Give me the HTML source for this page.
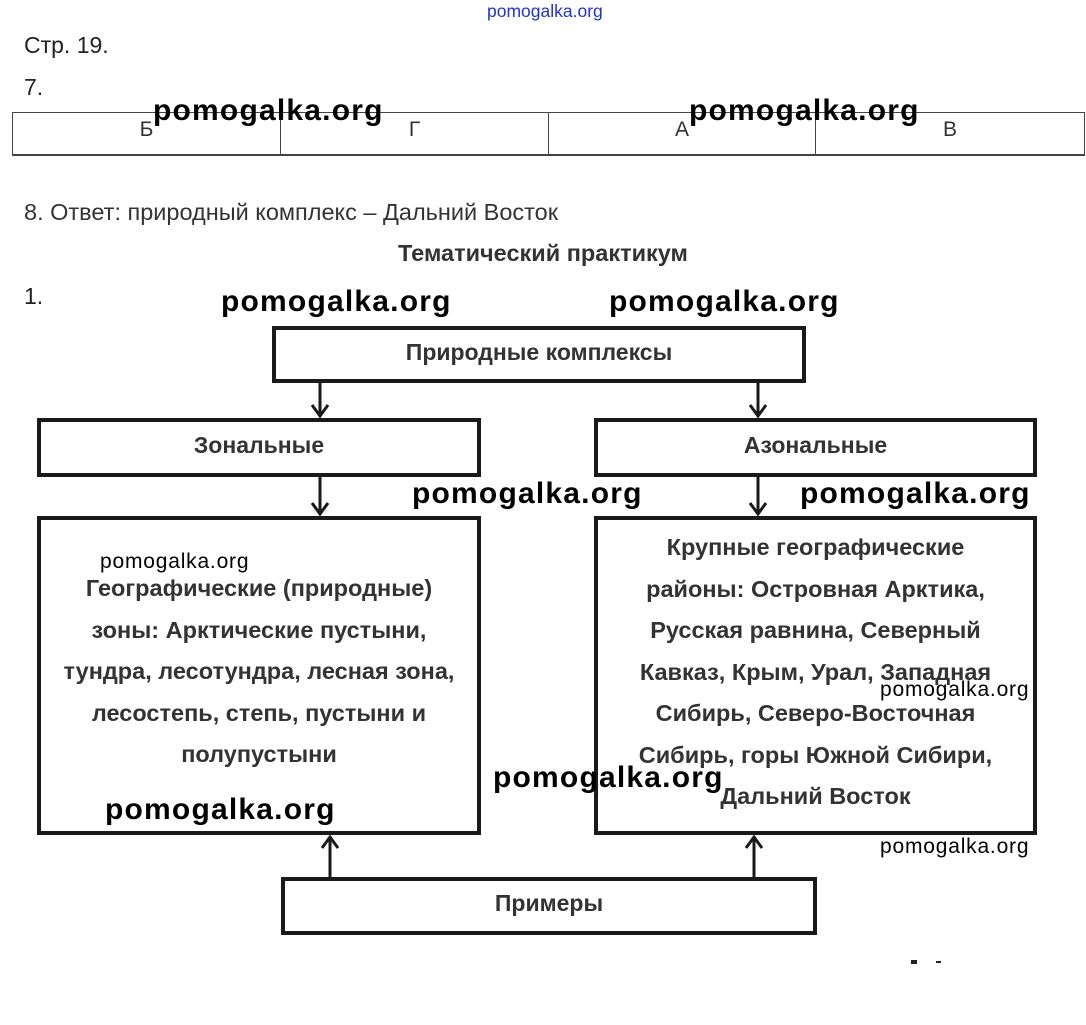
<!DOCTYPE html>
<html><head><meta charset="utf-8"><style>
body{margin:0;width:1086px;height:1025px;background:#fff;position:relative;overflow:hidden;font-family:"Liberation Sans",sans-serif;color:#222}
.a{position:absolute;white-space:nowrap;line-height:1}
.wm{position:absolute;white-space:nowrap;font-weight:bold;font-size:30px;color:#000;line-height:1;letter-spacing:1.2px}
.ws{position:absolute;white-space:nowrap;font-size:21px;color:#000;line-height:1;letter-spacing:0.8px}
.box{position:absolute;border:4px solid #1a1a1a;box-sizing:border-box;display:flex;align-items:center;justify-content:center;text-align:center;font-size:23px;font-weight:bold;color:#333;padding-bottom:5px}
.big{position:absolute;border:4px solid #1a1a1a;box-sizing:border-box;text-align:center;font-size:23.5px;font-weight:bold;color:#333;line-height:41.5px}
.c{position:absolute;top:112px;height:44px;border-top:1px solid #444;border-bottom:2px solid #444;border-left:1px solid #444;box-sizing:border-box;font-size:21px;text-align:center;padding-top:5px;color:#333}
</style></head><body>
<div class="a" style="left:487px;top:3px;font-size:17.5px;color:#2233cc">pomogalka.org</div>
<div class="a" style="left:24px;top:34px;font-size:23px">Стр. 19.</div>
<div class="a" style="left:24px;top:76px;font-size:23px">7.</div>
<div class="c" style="left:12px;width:268px">Б</div>
<div class="c" style="left:280px;width:268px">Г</div>
<div class="c" style="left:548px;width:267px">А</div>
<div class="c" style="left:815px;width:270px;border-right:1px solid #444">В</div>
<div class="wm" style="left:153px;top:96px">pomogalka.org</div>
<div class="wm" style="left:689px;top:96px">pomogalka.org</div>
<div class="a" style="left:24px;top:201px;font-size:23.5px;color:#333">8. Ответ: природный комплекс – Дальний Восток</div>
<div class="a" style="left:398px;top:242px;font-size:23.5px;font-weight:bold;color:#333">Тематический практикум</div>
<div class="a" style="left:24px;top:285px;font-size:23px">1.</div>
<div class="wm" style="left:221px;top:287px">pomogalka.org</div>
<div class="wm" style="left:609px;top:287px">pomogalka.org</div>
<div class="box" style="left:272px;top:326px;width:534px;height:57px">Природные комплексы</div>
<div class="box" style="left:37px;top:418px;width:444px;height:59px">Зональные</div>
<div class="box" style="left:594px;top:418px;width:443px;height:59px">Азональные</div>
<div class="big" style="left:37px;top:516px;width:444px;height:319px;padding-top:48px">Географические (природные)<br>зоны: Арктические пустыни,<br>тундра, лесотундра, лесная зона,<br>лесостепь, степь, пустыни и<br>полупустыни</div>
<div class="big" style="left:594px;top:516px;width:443px;height:319px;padding-top:7px">Крупные географические<br>районы: Островная Арктика,<br>Русская равнина, Северный<br>Кавказ, Крым, Урал, Западная<br>Сибирь, Северо-Восточная<br>Сибирь, горы Южной Сибири,<br>Дальний Восток</div>
<div class="box" style="left:281px;top:877px;width:536px;height:58px">Примеры</div>
<svg style="position:absolute;left:0;top:0" width="1086" height="1025">
<g stroke="#1a1a1a" stroke-width="3" fill="none">
<path d="M320 382V416M312 405L320 416L328 405"/>
<path d="M758 382V416M750 405L758 416L766 405"/>
<path d="M320 477V514M312 503L320 514L328 503"/>
<path d="M758 477V514M750 503L758 514L766 503"/>
<path d="M330 877V837M322 848L330 837L338 848"/>
<path d="M754 877V837M746 848L754 837L762 848"/>
</g>
<rect x="911" y="960" width="6" height="4" fill="#222"/><rect x="936" y="961" width="5" height="2" fill="#222"/>
</svg>
<div class="wm" style="left:412px;top:479px">pomogalka.org</div>
<div class="wm" style="left:800px;top:479px">pomogalka.org</div>
<div class="ws" style="left:100px;top:551px">pomogalka.org</div>
<div class="ws" style="left:880px;top:679px">pomogalka.org</div>
<div class="wm" style="left:493px;top:763px">pomogalka.org</div>
<div class="wm" style="left:105px;top:795px">pomogalka.org</div>
<div class="ws" style="left:880px;top:836px">pomogalka.org</div>
</body></html>
